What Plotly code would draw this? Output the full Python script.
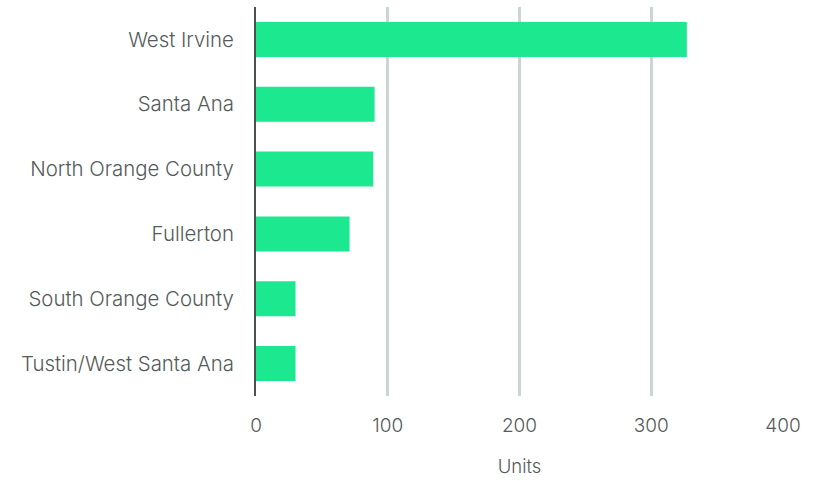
import plotly.graph_objects as go

# Units by submarket
regions = [
    "West Irvine",
    "Santa Ana",
    "North Orange County",
    "Fullerton",
    "South Orange County",
    "Tustin/West Santa Ana",
]
units = [327, 90, 89, 71, 30, 30]

x_ticks = [0, 100, 200, 300, 400]

BAR_COLOR = "#1be88f"
TEXT_COLOR = "#555a5a"
GRID_COLOR = "#cbd5d4"
AXIS_COLOR = "#4b5050"
FONT = "Inter, Roboto, sans-serif"

fig = go.Figure(
    go.Bar(
        x=units,
        y=regions,
        orientation="h",
        marker=dict(color=BAR_COLOR, line=dict(width=0)),
        hoverinfo="x+y",
    )
)

fig.update_layout(
    width=823,
    height=481,
    margin=dict(l=256, r=40, t=7, b=85),
    paper_bgcolor="white",
    plot_bgcolor="white",
    bargap=0.46,
    showlegend=False,
    font=dict(family=FONT, size=20, color=TEXT_COLOR, weight=340),
)

fig.update_xaxes(
    range=[0, 400],
    tickvals=x_ticks,
    ticktext=[str(v) for v in x_ticks],
    showgrid=True,
    gridcolor=GRID_COLOR,
    gridwidth=2.5,
    zeroline=False,
    showline=False,
    ticks="",
    ticklabelstandoff=16,
    tickfont=dict(size=19, color=TEXT_COLOR, weight=340),
    title=dict(text="Units", font=dict(size=18.5, color=TEXT_COLOR, weight=340), standoff=24),
    fixedrange=True,
)

fig.update_yaxes(
    categoryorder="array",
    categoryarray=regions[::-1],
    showgrid=False,
    showline=True,
    linecolor=AXIS_COLOR,
    linewidth=2,
    ticks="",
    ticklabelstandoff=16,
    tickfont=dict(size=20.4, color=TEXT_COLOR, weight=340),
    fixedrange=True,
)

fig.write_html("out.html")
